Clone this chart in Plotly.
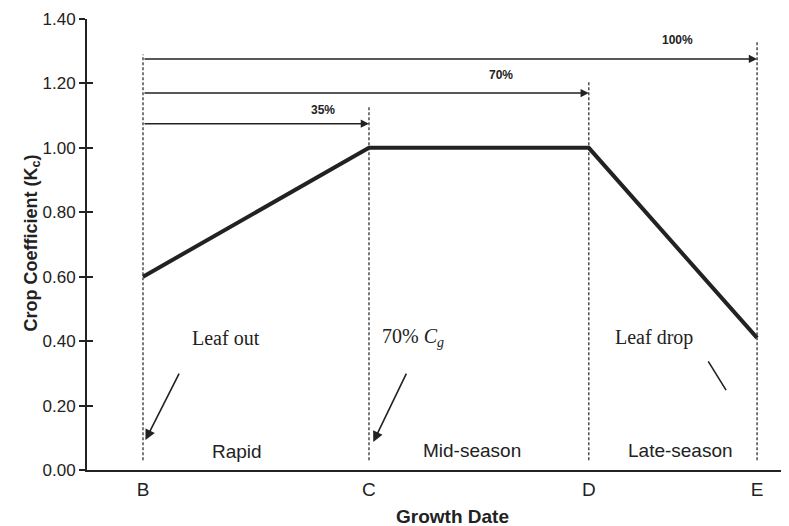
import plotly.graph_objects as go

# ---- data ----
stage_labels = ["B", "C", "D", "E"]
stage_pos = [0, 36.8, 72.6, 100]          # growth-date positions (x)
kc_values = [0.60, 1.00, 1.00, 0.41]      # crop coefficient at each stage
guide_tops = [1.29, 1.13, 1.21, 1.33]     # top of dashed stage guides
guide_bottom = 0.03
span_levels = [1.075, 1.17, 1.276]        # heights of the 35%, 70%, 100% arrows
span_labels = ["35%", "70%", "100%"]
span_ends = [1, 2, 3]                     # index into stage_pos
y_ticks = [0.0, 0.2, 0.4, 0.6, 0.8, 1.0, 1.2, 1.4]

ink = "#222222"
fig = go.Figure()

# dashed stage guides
for xp, top in zip(stage_pos, guide_tops):
    fig.add_trace(go.Scatter(x=[xp, xp], y=[guide_bottom, top], mode="lines",
                             line=dict(color="#333333", width=1.3, dash="3px,2px"),
                             hoverinfo="skip", showlegend=False))

# Kc curve
fig.add_trace(go.Scatter(x=stage_pos, y=kc_values, mode="lines",
                         line=dict(color=ink, width=4), showlegend=False))

# invisible trace for overlay axis (inside ticks)
fig.add_trace(go.Scatter(x=[stage_pos[0]], y=[0], yaxis="y2", mode="markers",
                         marker=dict(opacity=0), hoverinfo="skip", showlegend=False))

ann = []
# span arrows
label_pos = [(29.3, 1.118), (58.3, 1.226), (87.0, 1.335)]
for lvl, lab, ei, (lx, ly) in zip(span_levels, span_labels, span_ends, label_pos):
    ann.append(dict(x=stage_pos[ei], y=lvl, ax=stage_pos[0], ay=lvl, xref="x", yref="y",
                    axref="x", ayref="y", text="", showarrow=True, arrowhead=2,
                    arrowsize=1.1, arrowwidth=1.5, arrowcolor=ink, standoff=0))
    ann.append(dict(x=lx, y=ly, xref="x", yref="y", text="<b>%s</b>" % lab, showarrow=False,
                    font=dict(family="Liberation Sans, Arial", size=12, color=ink)))

serif = dict(family="Liberation Serif, Times New Roman", size=20, color=ink)
sans = dict(family="Liberation Sans, Arial", size=19, color=ink)
ann += [
    dict(x=13.5, y=0.41, text="Leaf out", showarrow=False, font=serif),
    dict(x=43.9, y=0.41, text="70% <i>C</i><sub><i>g</i></sub>", showarrow=False, font=serif),
    dict(x=83.2, y=0.41, text="Leaf drop", showarrow=False, font=serif),
    dict(x=15.3, y=0.056, text="Rapid", showarrow=False, font=sans),
    dict(x=53.6, y=0.062, text="Mid-season", showarrow=False, font=sans),
    dict(x=87.5, y=0.062, text="Late-season", showarrow=False, font=sans),
    dict(x=0.4, y=0.093, ax=6.0, ay=0.304, axref="x", ayref="y", text="", showarrow=True,
         arrowhead=2, arrowsize=1.3, arrowwidth=1.6, arrowcolor=ink, standoff=0),
    dict(x=37.5, y=0.087, ax=43.0, ay=0.304, axref="x", ayref="y", text="", showarrow=True,
         arrowhead=2, arrowsize=1.3, arrowwidth=1.6, arrowcolor=ink, standoff=0),
    dict(x=94.95, y=0.248, ax=91.9, ay=0.342, axref="x", ayref="y", text="", showarrow=True,
         arrowhead=0, arrowwidth=1.6, arrowcolor=ink, standoff=0),
    dict(x=(18 - 87) / 702, y=(470 - 243) / 451, xref="paper", yref="paper", textangle=-90,
         text="<b>Crop Coefficient (K<sub>c</sub>)</b>", showarrow=False,
         font=dict(family="Liberation Sans, Arial", size=18, color=ink)),
    dict(x=(452 - 87) / 702, y=(470 - 516) / 451, xref="paper", yref="paper",
         text="<b>Growth Date</b>", showarrow=False, yanchor="middle",
         font=dict(family="Liberation Sans, Arial", size=19, color=ink)),
]
for a in ann:
    a.setdefault("xref", "x")
    a.setdefault("yref", "y")

# page body adds an 8px offset, so the figure is sized to the remaining window
fig.update_layout(
    width=781, height=518, margin=dict(l=79, r=0, t=11, b=56, autoexpand=False),
    paper_bgcolor="white", plot_bgcolor="white",
    xaxis=dict(range=[-9.12, 105.2], tickvals=stage_pos, ticktext=stage_labels,
               showgrid=False, zeroline=False, showline=True, linecolor=ink, linewidth=2,
               ticks="", tickfont=dict(family="Liberation Sans, Arial", size=19, color=ink),
               ticklabelstandoff=1),
    yaxis=dict(range=[0, 1.4], tickvals=y_ticks, tickformat=".2f", showgrid=False,
               zeroline=False, showline=True, linecolor=ink, linewidth=2,
               ticks="outside", ticklen=6, tickwidth=2, tickcolor=ink,
               tickfont=dict(family="Liberation Sans, Arial", size=17, color=ink)),
    yaxis2=dict(range=[0, 1.4], overlaying="y", anchor="x", side="left", tickvals=y_ticks,
                showticklabels=False, ticks="inside", ticklen=6, tickwidth=2, tickcolor=ink,
                showgrid=False, zeroline=False, showline=False),
    annotations=ann,
    showlegend=False,
)

fig.write_html("out.html")
